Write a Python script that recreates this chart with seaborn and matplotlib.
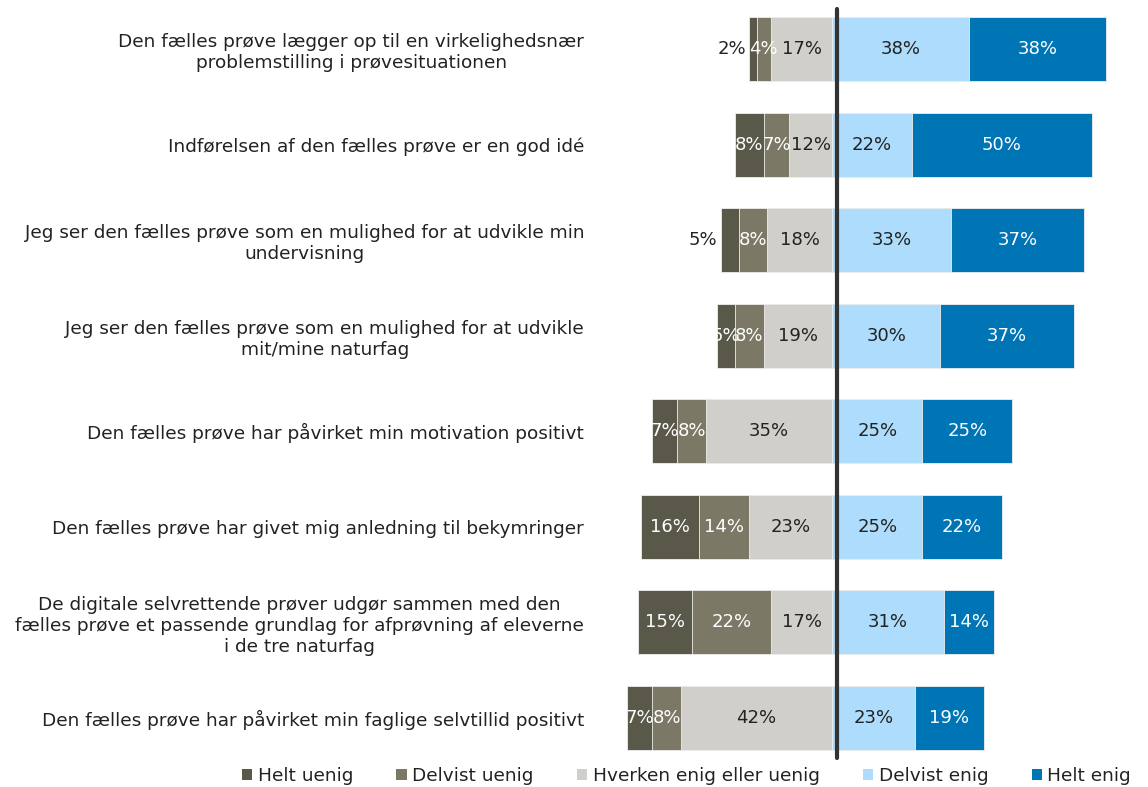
import numpy as np
import pandas as pd
import seaborn as sns
import matplotlib.pyplot as plt
from matplotlib.patches import Patch

# Survey statements (top to bottom)
statements = [
    'Den fælles prøve lægger op til en virkelighedsnær\nproblemstilling i prøvesituationen',
    'Indførelsen af den fælles prøve er en god idé',
    'Jeg ser den fælles prøve som en mulighed for at udvikle min\nundervisning',
    'Jeg ser den fælles prøve som en mulighed for at udvikle\nmit/mine naturfag',
    'Den fælles prøve har påvirket min motivation positivt',
    'Den fælles prøve har givet mig anledning til bekymringer',
    'De digitale selvrettende prøver udgør sammen med den\nfælles prøve et passende grundlag for afprøvning af eleverne\ni de tre naturfag',
    'Den fælles prøve har påvirket min faglige selvtillid positivt',
]

categories = ['Helt uenig', 'Delvist uenig', 'Hverken enig eller uenig',
              'Delvist enig', 'Helt enig']

helt_uenig = [2, 8, 5, 5, 7, 16, 15, 7]
delvist_uenig = [4, 7, 8, 8, 8, 14, 22, 8]
hverken = [17, 12, 18, 19, 35, 23, 17, 42]
delvist_enig = [38, 22, 33, 30, 25, 25, 31, 23]
helt_enig = [38, 50, 37, 37, 25, 22, 14, 19]

# rows whose "Helt uenig" label sits outside the bar
outside_rows = [0, 2]

colors = ['#5a5849', '#7b7966', '#d1cfc9', '#addcfc', '#0075b6']
text_colors = ['white', 'white', '#222222', '#222222', 'white']

df = pd.DataFrame({
    'statement': statements,
    'hu': helt_uenig, 'du': delvist_uenig, 'n': hverken,
    'de': delvist_enig, 'he': helt_enig,
})

# cumulative extents so the segments can be layered on top of each other
df['hu_end'] = -(df['n'] + df['du'] + df['hu'])
df['du_end'] = -(df['n'] + df['du'])
df['n_end'] = -df['n']
df['he_end'] = df['de'] + df['he']
df['de_end'] = df['de']

sns.set_style('white')
plt.rcParams['font.family'] = ['DejaVu Sans']

fig = plt.figure(figsize=(11.48, 7.87), dpi=100)
ax = fig.add_axes([0.521, 0.027, 0.455, 0.971])

order = statements
layers = [('hu_end', 0), ('du_end', 1), ('n_end', 2), ('he_end', 4), ('de_end', 3)]
for col, ci in layers:
    sns.barplot(data=df, x=col, y='statement', order=order, orient='h',
                color=colors[ci], saturation=1, width=0.67,
                edgecolor='#eeeeee', linewidth=0.6, ax=ax)

# percentage labels
for i, row in df.iterrows():
    segs = [
        (row['hu_end'], row['du_end'], row['hu'], 0),
        (row['du_end'], row['n_end'], row['du'], 1),
        (row['n_end'], 0, row['n'], 2),
        (0, row['de_end'], row['de'], 3),
        (row['de_end'], row['he_end'], row['he'], 4),
    ]
    for a, b, v, ci in segs:
        if ci == 0 and i in outside_rows:
            ax.text(a - 1.0, i, f'{v}%', ha='right', va='center',
                    fontsize=13, color='#222222')
        else:
            ax.text((a + b) / 2, i, f'{v}%', ha='center', va='center',
                    fontsize=13, color=text_colors[ci])

ax.axvline(1.4, ymin=0.01, ymax=0.99, color='#333333', lw=3)

ax.set_xlim(-65, 80)
ax.set_ylim(7.5, -0.5)
ax.set_xlabel('')
ax.set_ylabel('')
ax.set_xticks([])
ax.set_yticks(range(len(statements)))
ax.set_yticklabels(statements, fontsize=13.3, color='#222222',
                   multialignment='center')
ax.tick_params(axis='y', length=0, pad=10)
sns.despine(ax=ax, left=True, bottom=True)

handles = [Patch(facecolor=c, edgecolor='none') for c in colors]
fig.legend(handles, categories, loc='center', bbox_to_anchor=(0.598, 0.014),
           ncol=5, frameon=False, fontsize=13.3, handlelength=0.55,
           handleheight=0.55, handletextpad=0.3, columnspacing=2.35,
           labelcolor='#222222')

fig.savefig('out.png', dpi=100)
